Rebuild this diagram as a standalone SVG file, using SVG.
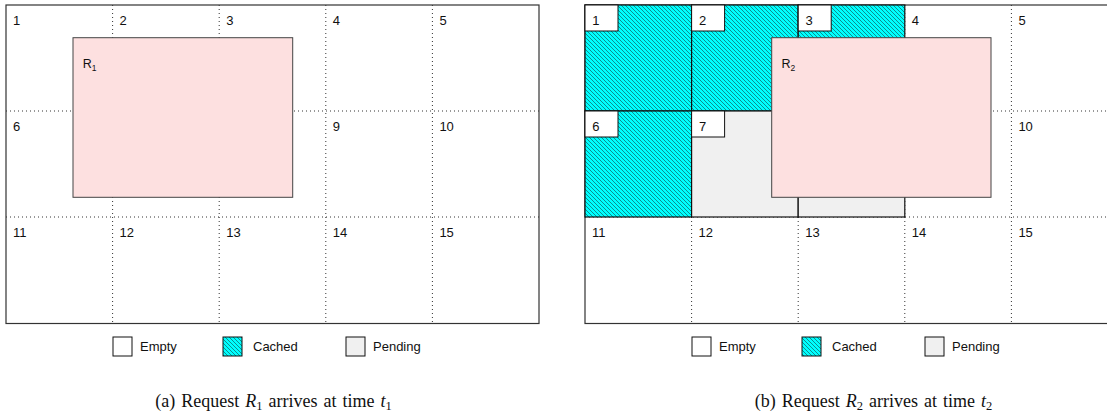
<svg xmlns="http://www.w3.org/2000/svg" width="1107" height="417" viewBox="0 0 1107 417">
<defs>
<pattern id="hatch" patternUnits="userSpaceOnUse" width="4" height="4">
<rect width="4" height="4" fill="#00ffff"/>
<path d="M-1,-1 L5,5 M-1,3 L1,5 M3,-1 L5,1" stroke="#0a9090" stroke-width="1"/>
</pattern>
<style>
.lbl{font-family:"Liberation Sans",Arial,sans-serif;font-size:13px;fill:#111}
.rl{font-family:"Liberation Sans",Arial,sans-serif;font-size:12.5px;fill:#111}
.sub{font-size:8.5px}
.dot{stroke:#333;stroke-width:1;stroke-dasharray:1 3;fill:none}
.frame{fill:#fff;stroke:#333;stroke-width:1.2}
.req{fill:#fde0e0;stroke:#444;stroke-width:1}
.cached{fill:url(#hatch);stroke:#111;stroke-width:1.2}
.pending{fill:#f0f0f0;stroke:#111;stroke-width:1.2}
.lb{fill:#fff;stroke:#111;stroke-width:1}
.box{stroke:#111;stroke-width:1}
.cap{font-family:"Liberation Serif","Times New Roman",serif;font-size:18px;word-spacing:1.5px;fill:#111}
</style>
</defs>

<!-- Panel (a) -->
<g id="panel-a">
<rect class="frame" x="6" y="5" width="533" height="318.5"/>
<g id="grid-a">
<path class="dot" d="M112.6,5V323.5 M219.2,5V323.5 M325.8,5V323.5 M432.4,5V323.5 M6,111H539 M6,217H539"/>
</g>
<g id="cells-a">
<text class="lbl" x="13" y="25">1</text>
<text class="lbl" x="119.6" y="25">2</text>
<text class="lbl" x="226.2" y="25">3</text>
<text class="lbl" x="332.8" y="25">4</text>
<text class="lbl" x="439.4" y="25">5</text>
<text class="lbl" x="13" y="131">6</text>
<text class="lbl" x="332.8" y="131">9</text>
<text class="lbl" x="439.4" y="131">10</text>
<text class="lbl" x="13" y="237">11</text>
<text class="lbl" x="119.6" y="237">12</text>
<text class="lbl" x="226.2" y="237">13</text>
<text class="lbl" x="332.8" y="237">14</text>
<text class="lbl" x="439.4" y="237">15</text>
</g>
<g id="R1">
<rect class="req" x="73" y="37.7" width="219.7" height="159.6"/>
<text class="rl" x="82.7" y="68.3">R<tspan class="sub" dy="3">1</tspan></text>
</g>
<g id="legend-a">
<rect class="box" x="113" y="337" width="19" height="19" fill="#fff"/>
<text class="lbl" x="140" y="351">Empty</text>
<rect class="box" x="223" y="337" width="19" height="19" fill="url(#hatch)"/>
<text class="lbl" x="253" y="351">Cached</text>
<rect class="box" x="346" y="337" width="19" height="19" fill="#f0f0f0"/>
<text class="lbl" x="373" y="351">Pending</text>
</g>
<text class="cap" x="273.5" y="407" text-anchor="middle">(a) Request <tspan font-style="italic">R</tspan><tspan font-size="12.5" dy="3">1</tspan><tspan dy="-3"> arrives at time </tspan><tspan font-style="italic">t</tspan><tspan font-size="12.5" dy="3">1</tspan></text>
</g>

<!-- Panel (b) -->
<g id="panel-b">
<rect class="frame" x="585" y="5" width="533" height="318.5"/>
<g id="grid-b">
<path class="dot" d="M691.6,5V323.5 M798.2,5V323.5 M904.8,5V323.5 M1011.4,5V323.5 M585,111H1118 M585,217H1118"/>
</g>
<g id="cell-1"><rect class="cached" x="585" y="5" width="106.6" height="106"/><rect class="lb" x="585" y="5" width="33" height="26"/><text class="lbl" x="592.3" y="25">1</text></g>
<g id="cell-2"><rect class="cached" x="691.6" y="5" width="106.6" height="106"/><rect class="lb" x="691.6" y="5" width="33" height="26"/><text class="lbl" x="698.9" y="25">2</text></g>
<g id="cell-3"><rect class="cached" x="798.2" y="5" width="106.6" height="106"/><rect class="lb" x="798.2" y="5" width="33" height="26"/><text class="lbl" x="805.5" y="25">3</text></g>
<g id="cell-6"><rect class="cached" x="585" y="111" width="106.6" height="106"/><rect class="lb" x="585" y="111" width="33" height="26"/><text class="lbl" x="592.3" y="131">6</text></g>
<g id="cell-7"><rect class="pending" x="691.6" y="111" width="106.6" height="106"/><rect class="lb" x="691.6" y="111" width="33" height="26"/><text class="lbl" x="698.9" y="131">7</text></g>
<g id="cell-8"><rect class="pending" x="798.2" y="111" width="106.6" height="106"/></g>
<g id="cells-b">
<text class="lbl" x="911.8" y="25">4</text>
<text class="lbl" x="1018.4" y="25">5</text>
<text class="lbl" x="1018.4" y="131">10</text>
<text class="lbl" x="592" y="237">11</text>
<text class="lbl" x="698.6" y="237">12</text>
<text class="lbl" x="805.2" y="237">13</text>
<text class="lbl" x="911.8" y="237">14</text>
<text class="lbl" x="1018.4" y="237">15</text>
</g>
<g id="R2">
<rect class="req" x="771.7" y="37.7" width="219.3" height="159.6"/>
<text class="rl" x="781.4" y="68.3">R<tspan class="sub" dy="3">2</tspan></text>
</g>
<g id="legend-b">
<rect class="box" x="692" y="337" width="19" height="19" fill="#fff"/>
<text class="lbl" x="719" y="351">Empty</text>
<rect class="box" x="802" y="337" width="19" height="19" fill="url(#hatch)"/>
<text class="lbl" x="832" y="351">Cached</text>
<rect class="box" x="925" y="337" width="19" height="19" fill="#f0f0f0"/>
<text class="lbl" x="952" y="351">Pending</text>
</g>
<text class="cap" x="873.5" y="407" text-anchor="middle">(b) Request <tspan font-style="italic">R</tspan><tspan font-size="12.5" dy="3">2</tspan><tspan dy="-3"> arrives at time </tspan><tspan font-style="italic">t</tspan><tspan font-size="12.5" dy="3">2</tspan></text>
</g>
</svg>
